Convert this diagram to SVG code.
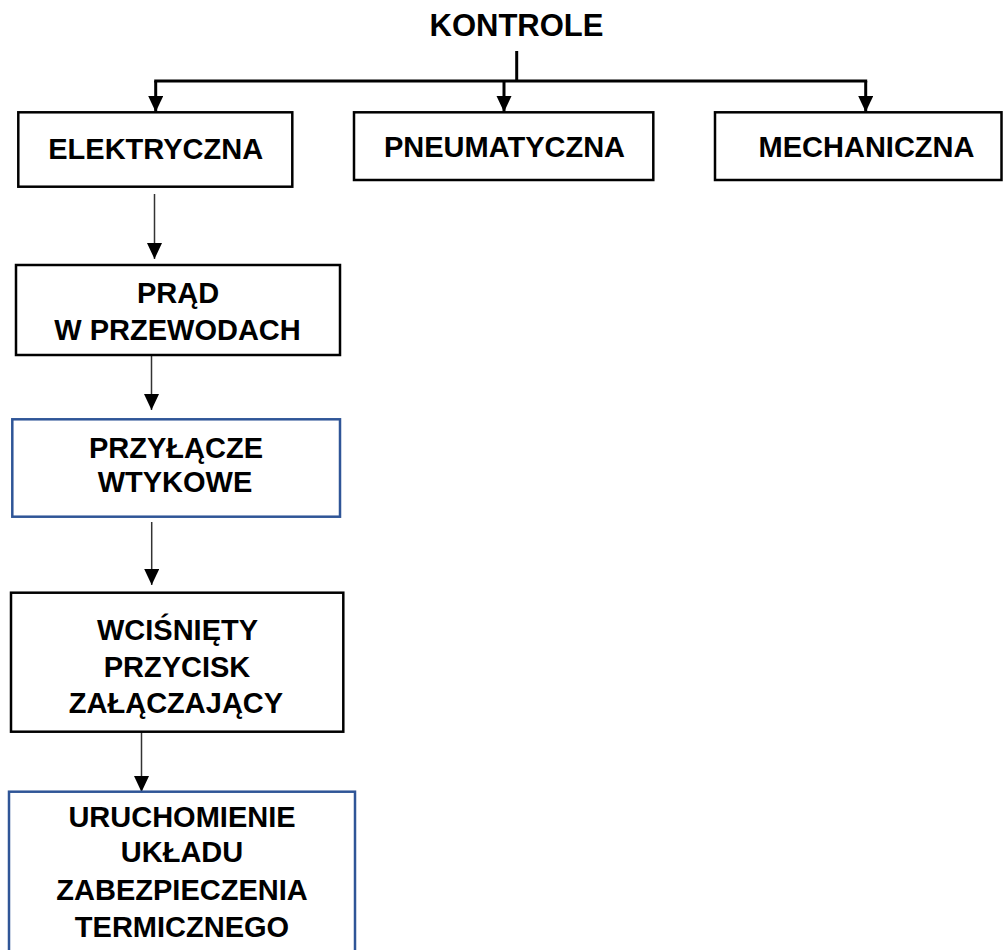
<svg xmlns="http://www.w3.org/2000/svg" width="1003" height="950" viewBox="0 0 1003 950">
<defs>
<marker id="ah" markerUnits="userSpaceOnUse" markerWidth="17" markerHeight="16" refX="16" refY="7.5" orient="auto">
<path d="M0,0 L16,7.5 L0,15 Z" fill="#000"/>
</marker>
<style>
.t{font-family:"Liberation Sans",Arial,sans-serif;font-weight:bold;font-size:29px;fill:#000;text-anchor:middle}
.bk{fill:#fff;stroke:#000;stroke-width:2.5}
.bl{fill:#fff;stroke:#2F5597;stroke-width:2.5}
.c1{fill:none;stroke:#000;stroke-width:3}
.c2{fill:none;stroke:#333;stroke-width:1.5}
</style>
</defs>
<rect width="1003" height="950" fill="#fff"/>
<g id="connectors">
<line class="c1" x1="516.7" y1="51" x2="516.7" y2="81"/>
<line class="c1" x1="154.2" y1="81" x2="867.2" y2="81"/>
<line class="c1" x1="155.7" y1="81" x2="155.7" y2="112" marker-end="url(#ah)"/>
<line class="c1" x1="504" y1="81" x2="504" y2="112" marker-end="url(#ah)"/>
<line class="c1" x1="865.7" y1="81" x2="865.7" y2="112" marker-end="url(#ah)"/>
<line class="c2" x1="154.5" y1="194" x2="154.5" y2="259" marker-end="url(#ah)"/>
<line class="c2" x1="151.5" y1="347" x2="151.5" y2="410" marker-end="url(#ah)"/>
<line class="c2" x1="151.7" y1="522" x2="151.7" y2="585" marker-end="url(#ah)"/>
<line class="c2" x1="141.5" y1="728" x2="141.5" y2="792" marker-end="url(#ah)"/>
</g>
<g id="kontrole">
<text class="t" x="516.5" y="36" style="font-size:31px">KONTROLE</text>
</g>
<g id="elektryczna">
<rect class="bk" x="18.3" y="112.3" width="274" height="74.4"/>
<text class="t" x="155.7" y="158.5">ELEKTRYCZNA</text>
</g>
<g id="pneumatyczna">
<rect class="bk" x="354" y="112.3" width="299.3" height="67.7"/>
<text class="t" x="504.5" y="157">PNEUMATYCZNA</text>
</g>
<g id="mechaniczna">
<rect class="bk" x="715" y="112.3" width="286.5" height="67.7"/>
<text class="t" x="866.5" y="157">MECHANICZNA</text>
</g>
<g id="prad">
<rect class="bk" x="16" y="265" width="324" height="90"/>
<text class="t" x="178" y="302.7">PRĄD</text>
<text class="t" x="177.5" y="340">W PRZEWODACH</text>
</g>
<g id="przylacze">
<rect class="bl" x="12.3" y="419.3" width="327.7" height="97.4"/>
<text class="t" x="176" y="457.7">PRZYŁĄCZE</text>
<text class="t" x="175" y="491.7">WTYKOWE</text>
</g>
<g id="wcisniety">
<rect class="bk" x="11" y="592.7" width="332.3" height="139"/>
<text class="t" x="177.5" y="640">WCIŚNIĘTY</text>
<text class="t" x="177" y="676.7">PRZYCISK</text>
<text class="t" x="176" y="713.3">ZAŁĄCZAJĄCY</text>
</g>
<g id="uruchomienie">
<rect class="bl" x="9" y="791.7" width="346" height="170"/>
<text class="t" x="182" y="826.7">URUCHOMIENIE</text>
<text class="t" x="182" y="861.7">UKŁADU</text>
<text class="t" x="182" y="899.5">ZABEZPIECZENIA</text>
<text class="t" x="182" y="936.7">TERMICZNEGO</text>
</g>
</svg>
